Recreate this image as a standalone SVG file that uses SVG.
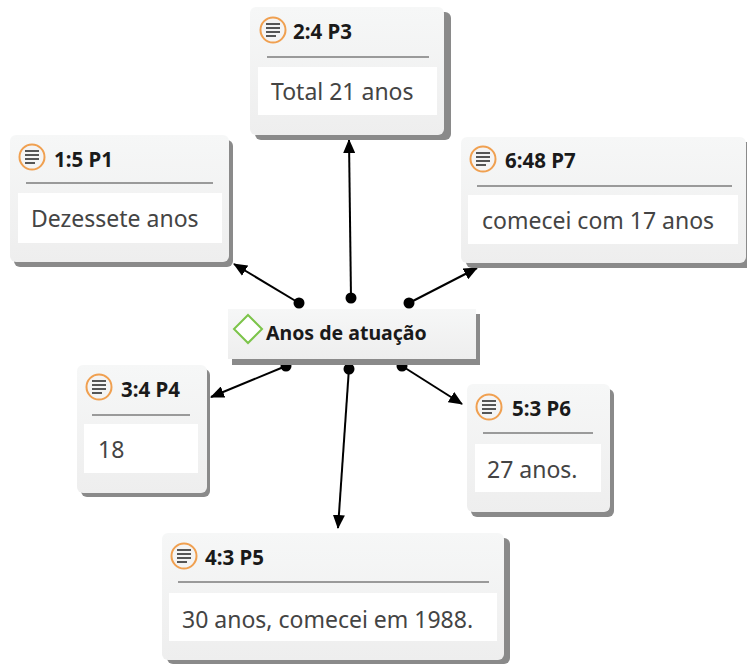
<svg xmlns="http://www.w3.org/2000/svg" xmlns:xlink="http://www.w3.org/1999/xlink" width="747" height="664" viewBox="0 0 747 664">
<defs>
<linearGradient id="bg" x1="0" y1="0" x2="0" y2="1">
<stop offset="0" stop-color="#f6f7f7"/>
<stop offset="1" stop-color="#eeeeee"/>
</linearGradient>
<marker id="arr" markerUnits="userSpaceOnUse" markerWidth="14" markerHeight="12" refX="13" refY="6" orient="auto">
<path d="M0,0 L14,6 L0,12 Z" fill="#000"/>
</marker>
<g id="icon">
<circle cx="0" cy="0" r="12.5" fill="#f4f4f4" stroke="#f0a050" stroke-width="2"/>
<path d="M-7,-6 H7 M-7,-2 H7 M-7,2 H7 M-7,6 H3" stroke="#555" stroke-width="2"/>
</g>
<style>
.shadow{fill:#8a8a8a}
.box{fill:url(#bg)}
.inner{fill:#ffffff}
.sep{stroke:#9a9a9a;stroke-width:2}
.title{font-family:"Noto Sans","Open Sans",sans-serif;font-weight:bold;font-size:20.5px;fill:#1a1a1a}
.body{font-family:"Noto Sans","Open Sans",sans-serif;font-size:23px;fill:#444}
.conn{stroke:#000;stroke-width:2;fill:none}
</style>
</defs>
<rect width="747" height="664" fill="#ffffff"/>

<g id="connectors">
<line class="conn" x1="299" y1="303" x2="234" y2="264" marker-end="url(#arr)"/>
<line class="conn" x1="351" y1="298" x2="349" y2="140" marker-end="url(#arr)"/>
<line class="conn" x1="409" y1="303" x2="477" y2="268" marker-end="url(#arr)"/>
<line class="conn" x1="286" y1="366" x2="211" y2="397" marker-end="url(#arr)"/>
<line class="conn" x1="349" y1="368" x2="338" y2="528" marker-end="url(#arr)"/>
<line class="conn" x1="402" y1="366" x2="462" y2="404" marker-end="url(#arr)"/>
<circle cx="299" cy="303" r="5.5"/>
<circle cx="351" cy="298" r="5.5"/>
<circle cx="409" cy="303" r="5.5"/>
<circle cx="286" cy="366" r="5.5"/>
<circle cx="349" cy="369" r="5.5"/>
<circle cx="402" cy="366" r="5.5"/>
</g>

<g id="center">
<rect class="shadow" x="232" y="314" width="248" height="51"/>
<rect class="box" x="228" y="309" width="248" height="50"/>
<path d="M248,315 L262,329 L248,343 L234,329 Z" fill="#fff" stroke="#7cc44a" stroke-width="2"/>
<text class="title" x="266" y="340" style="font-size:19.5px">Anos de atuação</text>
</g>

<g id="p3">
<rect class="shadow" x="255" y="12" width="196" height="128" rx="6"/>
<rect class="box" x="250" y="7" width="194" height="128" rx="6"/>
<use xlink:href="#icon" x="273" y="30"/>
<text class="title" x="293" y="39">2:4 P3</text>
<line class="sep" x1="267" y1="57" x2="429" y2="57"/>
<rect class="inner" x="258" y="67" width="179" height="48"/>
<text class="body" x="271" y="100">Total 21 anos</text>
</g>

<g id="p1">
<rect class="shadow" x="14" y="140" width="219" height="127" rx="6"/>
<rect class="box" x="10" y="135" width="219" height="127" rx="6"/>
<use xlink:href="#icon" x="32" y="157"/>
<text class="title" x="54" y="167">1:5 P1</text>
<line class="sep" x1="26" y1="183" x2="213" y2="183"/>
<rect class="inner" x="18" y="193" width="204" height="50"/>
<text class="body" x="31" y="227">Dezessete anos</text>
</g>

<g id="p7">
<rect class="shadow" x="466" y="142" width="290" height="126" rx="6"/>
<rect class="box" x="461" y="137" width="285" height="126" rx="6"/>
<use xlink:href="#icon" x="483" y="159"/>
<text class="title" x="505" y="168">6:48 P7</text>
<line class="sep" x1="477" y1="186" x2="732" y2="186"/>
<rect class="inner" x="468" y="195" width="270" height="49"/>
<text class="body" x="482" y="229">comecei com 17 anos</text>
</g>

<g id="p4">
<rect class="shadow" x="81" y="369" width="129" height="128" rx="6"/>
<rect class="box" x="77" y="365" width="130" height="128" rx="6"/>
<use xlink:href="#icon" x="99" y="387"/>
<text class="title" x="121" y="397">3:4 P4</text>
<line class="sep" x1="92" y1="415" x2="190" y2="415"/>
<rect class="inner" x="84" y="424" width="114" height="49"/>
<text class="body" x="98" y="458">18</text>
</g>

<g id="p6">
<rect class="shadow" x="471" y="389" width="143" height="128" rx="6"/>
<rect class="box" x="467" y="384" width="143" height="128" rx="6"/>
<use xlink:href="#icon" x="489" y="407"/>
<text class="title" x="512" y="416">5:3 P6</text>
<line class="sep" x1="483" y1="433" x2="593" y2="433"/>
<rect class="inner" x="475" y="444" width="126" height="48"/>
<text class="body" x="487" y="478">27 anos.</text>
</g>

<g id="p5">
<rect class="shadow" x="167" y="538" width="343" height="126" rx="6"/>
<rect class="box" x="162" y="533" width="342" height="127" rx="6"/>
<use xlink:href="#icon" x="184" y="556"/>
<text class="title" x="205" y="565">4:3 P5</text>
<line class="sep" x1="178" y1="582" x2="489" y2="582"/>
<rect class="inner" x="169" y="593" width="328" height="48"/>
<text class="body" x="182" y="628">30 anos, comecei em 1988.</text>
</g>
</svg>
